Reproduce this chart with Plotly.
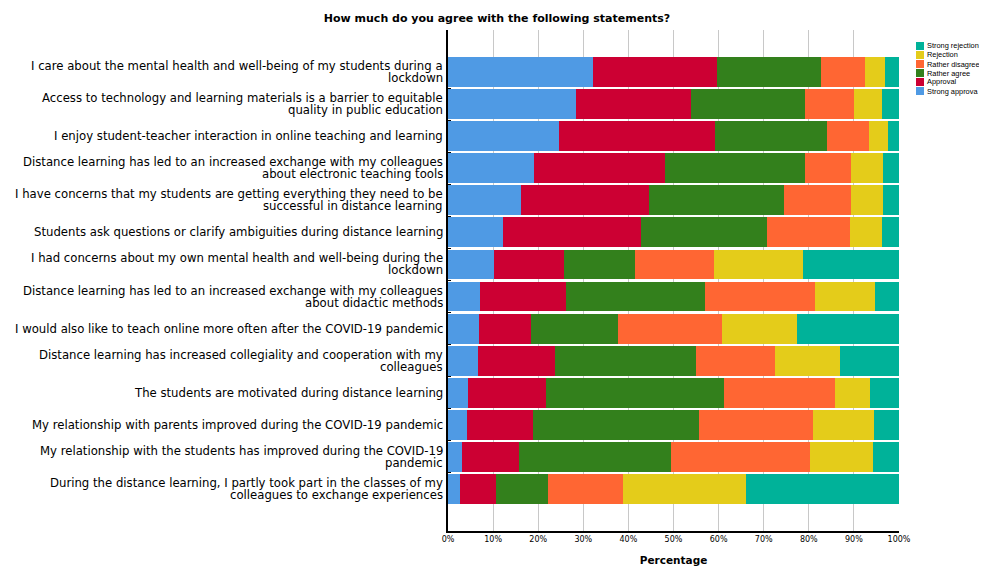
import plotly.graph_objects as go

statements = [
    "I care about the mental health and well-being of my students during a<br>lockdown",
    "Access to technology and learning materials is a barrier to equitable<br>quality in public education",
    "I enjoy student-teacher interaction in online teaching and learning",
    "Distance learning has led to an increased exchange with my colleagues<br>about electronic teaching tools",
    "I have concerns that my students are getting everything they need to be<br>successful in distance learning",
    "Students ask questions or clarify ambiguities during distance learning",
    "I had concerns about my own mental health and well-being during the<br>lockdown",
    "Distance learning has led to an increased exchange with my colleagues<br>about didactic methods",
    "I would also like to teach online more often after the COVID-19 pandemic",
    "Distance learning has increased collegiality and cooperation with my<br>colleagues",
    "The students are motivated during distance learning",
    "My relationship with parents improved during the COVID-19 pandemic",
    "My relationship with the students has improved during the COVID-19<br>pandemic",
    "During the distance learning, I partly took part in the classes of my<br>colleagues to exchange experiences",
]

strong_approval = [32.2, 28.4, 24.6, 19.1, 16.2, 12.2, 10.2, 7.1, 6.9, 6.6, 4.4, 4.2, 3.1, 2.7]
approval = [27.4, 25.5, 34.6, 29.0, 28.4, 30.6, 15.5, 19.1, 11.5, 17.1, 17.3, 14.6, 12.6, 7.9]
rather_agree = [23.1, 25.3, 24.8, 31.1, 29.9, 27.9, 15.8, 30.8, 19.3, 31.3, 39.5, 36.9, 33.7, 11.6]
rather_disagree = [9.8, 10.8, 9.3, 10.2, 14.9, 18.4, 17.5, 24.4, 23.1, 17.5, 24.6, 25.2, 30.9, 16.6]
rejection = [4.4, 6.2, 4.3, 7.1, 7.1, 7.1, 19.7, 13.3, 16.6, 14.4, 7.8, 13.6, 13.9, 27.3]
strong_rejection = [3.1, 3.8, 2.4, 3.5, 3.5, 3.8, 21.3, 5.3, 22.6, 13.1, 6.4, 5.5, 5.8, 33.9]

series = [
    ("Strong approva", strong_approval, "#4F9AE4"),
    ("Approval", approval, "#CC0033"),
    ("Rather agree", rather_agree, "#33801C"),
    ("Rather disagree", rather_disagree, "#FF6633"),
    ("Rejection", rejection, "#E4CC1A"),
    ("Strong rejection", strong_rejection, "#00B299"),
]

rows = list(range(len(statements)))

# page body adds an 8px margin, so the figure is sized a bit smaller
W, H = 979, 559
L, R, T, B = 440, 88, 22, 36
pw, ph = W - L - R, H - T - B

fig = go.Figure()
for name, vals, color in series:
    fig.add_trace(go.Bar(y=rows, x=vals, name=name, orientation="h", showlegend=False,
                         marker=dict(color=color, line=dict(width=0)), width=0.93))

# statement labels: one annotation per line so the line spacing stays tight
line_gap = 12
for r, text in zip(rows, statements):
    lines = text.split("<br>")
    n = len(lines)
    for i, ln in enumerate(lines):
        shift = ((n - 1) / 2 - i) * line_gap
        fig.add_annotation(text=ln, xref="paper", x=0, xanchor="right", xshift=-4,
                           yref="y", y=r, yanchor="middle", yshift=shift, borderpad=0,
                           showarrow=False, font=dict(size=11.7, family="DejaVu Sans", color="black"))

# small legend in the top-right corner, top entry first
for i, (name, vals, color) in enumerate(reversed(series)):
    top = 34 + i * 9
    fig.add_shape(type="rect", xref="paper", yref="paper",
                  x0=(908 - L) / pw, x1=(916 - L) / pw,
                  y0=(H - B - top - 8) / ph, y1=(H - B - top) / ph,
                  fillcolor=color, line=dict(width=0))
    fig.add_annotation(text=name, xref="paper", yref="paper", x=(918 - L) / pw,
                       y=(H - B - top - 4) / ph, xanchor="left", yanchor="middle", borderpad=0,
                       showarrow=False, font=dict(size=7.4, family="Liberation Sans", color="black"))

fig.update_layout(
    barmode="stack",
    width=W, height=H,
    margin=dict(l=L, r=R, t=T, b=B, autoexpand=False),
    paper_bgcolor="white", plot_bgcolor="white",
    font=dict(family="DejaVu Sans", color="black"),
    title=dict(text="<b>How much do you agree with the following statements?</b>",
               x=0.4995, xref="container", xanchor="center", y=1 - 10 / H, yanchor="middle",
               font=dict(size=11, family="DejaVu Sans")),
)

fig.update_xaxes(range=[0, 100], dtick=10, ticksuffix="%", showgrid=True,
                 gridcolor="#C8C8C8", gridwidth=1, showline=True, linecolor="black",
                 linewidth=1.5, ticks="", tickfont=dict(size=8), zeroline=False, automargin=False,
                 title=dict(text="<b>Percentage</b>", font=dict(size=10.5), standoff=13))
fig.update_yaxes(tickvals=rows, range=[14.31, -1.31], showticklabels=False,
                 showgrid=False, showline=True, linecolor="black", linewidth=1.5,
                 ticks="", zeroline=False, automargin=False,
                 minor=dict(tickvals=[r + 0.5 for r in rows[:-1]], ticks="inside",
                            ticklen=3, tickcolor="black", showgrid=False))

fig.write_html("out.html")
